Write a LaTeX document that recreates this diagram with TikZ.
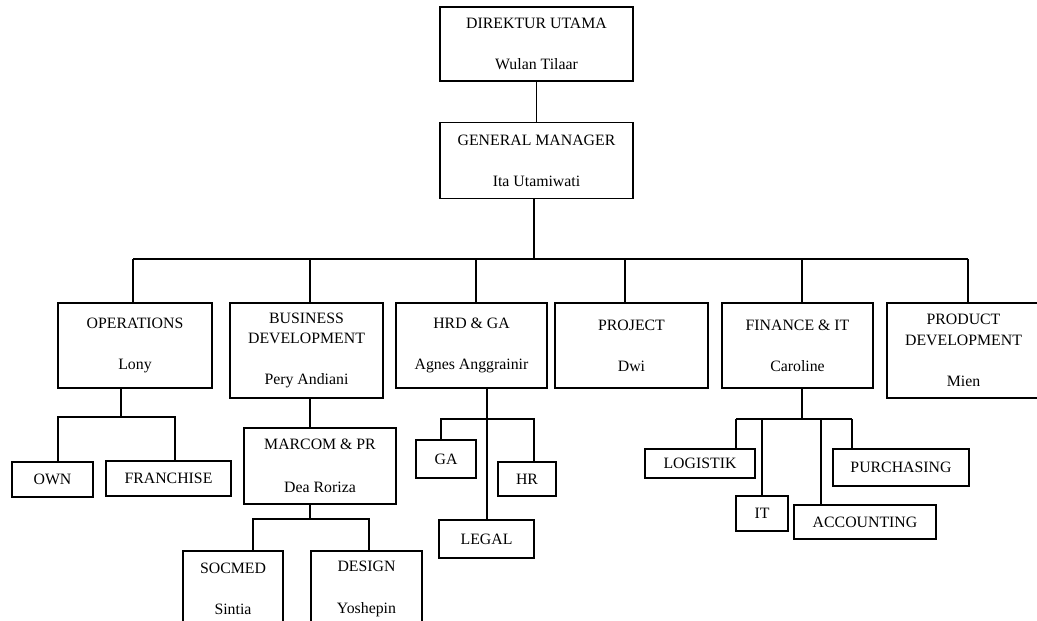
\documentclass[tikz,border=0pt]{standalone}
\usepackage{fontspec}
\setmainfont{Liberation Serif}
\usepackage{tikz}
\usetikzlibrary{positioning}

\begin{document}
\begin{tikzpicture}[
        x=0.02cm, y=-0.02cm,
        box/.style={rectangle, draw=black, line width=0.9pt, align=center, inner sep=0pt, font=\fontsize{9}{11.5}\selectfont},
        line/.style={line width=0.9pt}
    ]
        \clip (0,0) rectangle (1037,620);

        % ===== pimpinan =====
        \node (dirut) [box, minimum width=3.86cm, minimum height=1.48cm] at (536.5,44) {DIREKTUR UTAMA\\[12pt]Wulan Tilaar};
        \node (gm) [box, minimum width=3.86cm, minimum height=1.52cm, below=0.8cm of dirut] {GENERAL MANAGER\\[12pt]Ita Utamiwati};

        % ===== divisi =====
        \node (ops) [box, minimum width=3.08cm, minimum height=1.70cm] at (135,345.5) {OPERATIONS\\[12pt]Lony};
        \node (bisdev) [box, minimum width=3.06cm, minimum height=1.90cm] at (306.5,350.5) {BUSINESS\\DEVELOPMENT\\[12pt]Pery Andiani};
        \node (hrd) [box, minimum width=3.02cm, minimum height=1.70cm] at (471.5,345.5) {HRD \& GA\\[12pt]Agnes Anggrainir};
        \node (proj) [box, minimum width=3.06cm, minimum height=1.70cm] at (631.5,345.5) {PROJECT\\[12pt]Dwi};
        \node (fin) [box, minimum width=3.02cm, minimum height=1.70cm] at (797.5,345.5) {FINANCE \& IT\\[12pt]Caroline};
        \node (prod) [box, minimum width=3.06cm, minimum height=1.90cm] at (963.5,350.5) {PRODUCT\\DEVELOPMENT\\[12pt]Mien};

        % ===== bagian =====
        \node (own) [box, minimum width=1.62cm, minimum height=0.70cm] at (52.5,479.5) {OWN};
        \node (fran) [box, minimum width=2.50cm, minimum height=0.70cm] at (168.5,478.5) {FRANCHISE};
        \node (marcom) [box, minimum width=3.04cm, minimum height=1.52cm] at (320,466) {MARCOM \& PR\\[13pt]Dea Roriza};
        \node (socmed) [box, minimum width=2.00cm, minimum height=1.52cm] at (233,589) {SOCMED\\[12pt]Sintia};
        \node (design) [box, minimum width=2.22cm, minimum height=1.52cm] at (366.5,589) {DESIGN\\[12pt]Yoshepin};
        \node (ga) [box, minimum width=1.20cm, minimum height=0.76cm] at (446,459) {GA};
        \node (hr) [box, minimum width=1.16cm, minimum height=0.68cm] at (527,479) {HR};
        \node (legal) [box, minimum width=1.90cm, minimum height=0.76cm] at (486.5,539) {LEGAL};
        \node (logistik) [box, minimum width=2.20cm, minimum height=0.58cm] at (700,463.5) {LOGISTIK};
        \node (it) [box, minimum width=1.04cm, minimum height=0.70cm] at (762,513.5) {IT};
        \node (acc) [box, minimum width=2.84cm, minimum height=0.68cm] at (865,522) {ACCOUNTING};
        \node (purch) [box, minimum width=2.72cm, minimum height=0.74cm] at (901,467.5) {PURCHASING};

        % ===== garis =====
        \draw [line] (dirut) -- (gm);
        \coordinate (bus) at (534,259);
        \draw [line] (bus |- gm.south) -- (bus);
        \draw [line] (133,259) -- (968,259);
        \foreach \n/\x in {ops/133, bisdev/310, hrd/476, proj/625, fin/802, prod/968}
            \draw [line] (\x,259) -- (\x,259 |- \n.north);

        % operations
        \coordinate (opsM) at (121,417);
        \coordinate (opsL) at (58,417);
        \coordinate (opsR) at (175,417);
        \draw [line] (opsM |- ops.south) -- (opsM);
        \draw [line] (opsL |- own.north) -- (opsL) -- (opsR) -- (opsR |- fran.north);

        % business development
        \coordinate (mcM) at (310,519);
        \coordinate (mcL) at (253,519);
        \coordinate (mcR) at (369,519);
        \draw [line] (mcM |- bisdev.south) -- (mcM |- marcom.north);
        \draw [line] (mcM |- marcom.south) -- (mcM);
        \draw [line] (mcL |- socmed.north) -- (mcL) -- (mcR) -- (mcR |- design.north);

        % hrd & ga
        \coordinate (hrdM) at (487,419);
        \coordinate (hrdL) at (441,419);
        \coordinate (hrdR) at (534,419);
        \draw [line] (hrdM |- hrd.south) -- (hrdM |- legal.north);
        \draw [line] (hrdL |- ga.north) -- (hrdL) -- (hrdR) -- (hrdR |- hr.north);

        % finance & it
        \coordinate (finM) at (802,419);
        \coordinate (finA) at (736,419);
        \coordinate (finB) at (762,419);
        \coordinate (finC) at (821,419);
        \coordinate (finD) at (852,419);
        \draw [line] (finM |- fin.south) -- (finM);
        \draw [line] (finA) -- (finD);
        \draw [line] (finA) -- (finA |- logistik.north);
        \draw [line] (finB) -- (finB |- it.north);
        \draw [line] (finC) -- (finC |- acc.north);
        \draw [line] (finD) -- (finD |- purch.north);

    \end{tikzpicture}
\end{document}
